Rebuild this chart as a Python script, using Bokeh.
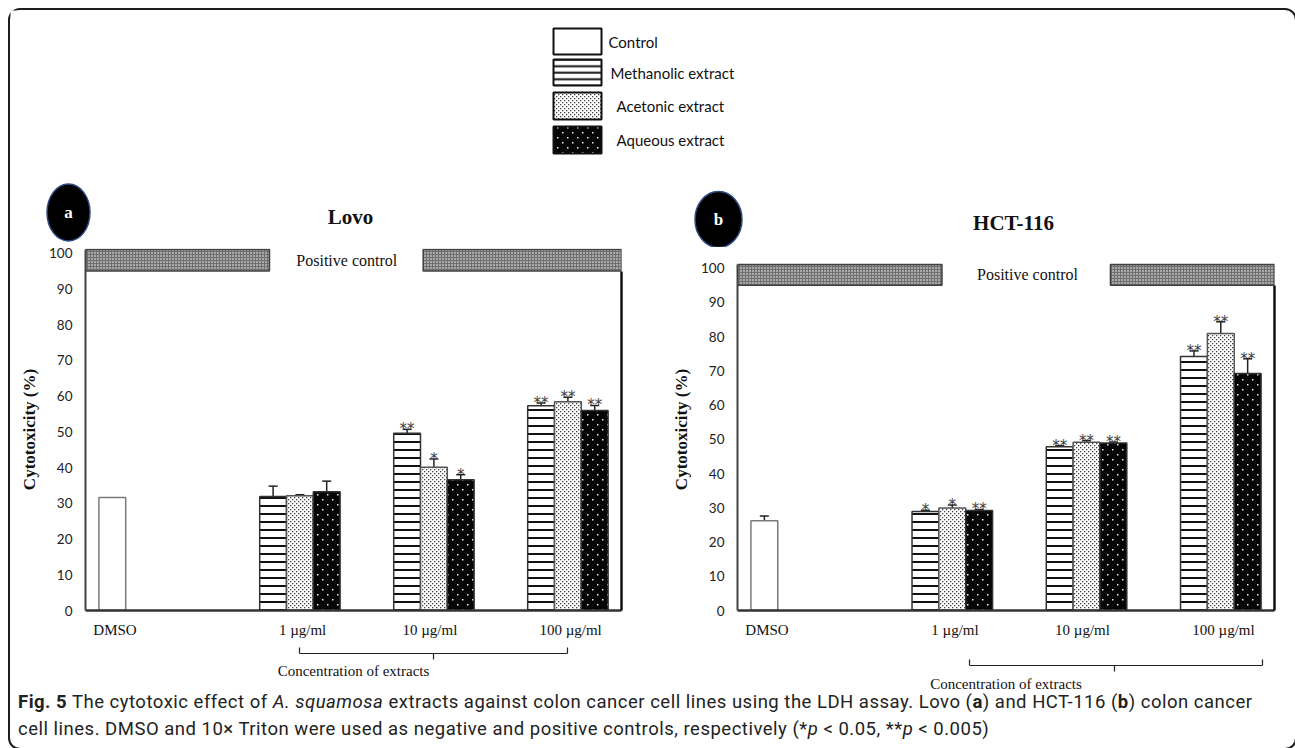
import base64
from bokeh.plotting import figure
from bokeh.models import (Range1d, LinearAxis, FixedTicker, ColumnDataSource,
                          Whisker, TeeHead, Div, ImageURLTexture)
from bokeh.layouts import column, row
from bokeh.core.properties import value
from bokeh.embed import file_html
from bokeh.resources import INLINE

# ---------------- data ----------------
categories = ["DMSO", "1 µg/ml", "10 µg/ml", "100 µg/ml"]
series_names = ["Control", "Methanolic extract", "Acetonic extract", "Aqueous extract"]

lovo_control = [31.6, 0, 0, 0]
lovo_control_err = [0, 0, 0, 0]
lovo_methanolic = [0, 31.9, 49.6, 57.3]
lovo_methanolic_err = [0, 2.9, 1.1, 0.8]
lovo_acetonic = [0, 32.1, 40.1, 58.4]
lovo_acetonic_err = [0, 0.3, 2.3, 1.3]
lovo_aqueous = [0, 33.2, 36.6, 56.0]
lovo_aqueous_err = [0, 3.0, 1.4, 1.4]
lovo_control_sig = ["", "", "", ""]
lovo_methanolic_sig = ["", "", "**", "**"]
lovo_acetonic_sig = ["", "", "*", "**"]
lovo_aqueous_sig = ["", "", "*", "**"]

hct_control = [26.2, 0, 0, 0]
hct_control_err = [1.4, 0, 0, 0]
hct_methanolic = [0, 28.9, 47.8, 74.2]
hct_methanolic_err = [0, 0.4, 0.3, 1.6]
hct_acetonic = [0, 29.9, 49.1, 80.9]
hct_acetonic_err = [0, 0.9, 0.5, 3.4]
hct_aqueous = [0, 29.2, 48.9, 69.2]
hct_aqueous_err = [0, 0.3, 0.3, 4.3]
hct_control_sig = ["", "", "", ""]
hct_methanolic_sig = ["", "*", "**", "**"]
hct_acetonic_sig = ["", "*", "**", "**"]
hct_aqueous_sig = ["", "**", "**", "**"]

y_ticks = [0, 10, 20, 30, 40, 50, 60, 70, 80, 90, 100]

# ---------------- styles ----------------
SERIF = "Liberation Serif"
SANS = "Lato"
OFFSETS = [-0.3, -0.1, 0.1, 0.3]
BAR_W = 0.2
LABEL_POS = [-0.28, 1.12, 2.07, 3.12]


def svg_uri(svg):
    return "data:image/svg+xml;base64," + base64.b64encode(svg.encode()).decode()


ACET_URI = svg_uri(
    "<svg xmlns='http://www.w3.org/2000/svg' width='4' height='4'>"
    "<rect x='0' y='0' width='1.3' height='1.3' fill='#404040'/>"
    "<rect x='2' y='2' width='1.3' height='1.3' fill='#404040'/></svg>")
AQ_URI = svg_uri(
    "<svg xmlns='http://www.w3.org/2000/svg' width='10' height='10'>"
    "<rect width='10' height='10' fill='#050505'/>"
    "<rect x='2' y='2' width='1.5' height='1.5' fill='#eeeeee'/>"
    "<rect x='7' y='7' width='1.5' height='1.5' fill='#eeeeee'/></svg>")


def bar_styles(lw, lc):
    return [
        dict(fill_color="white", line_color="#7a7a7a" if lc is None else lc, line_width=lw),
        dict(fill_color="white", line_color=lc or "#333333", line_width=lw,
             hatch_pattern="-", hatch_scale=8 if lc is None else 6.5, hatch_weight=2,
             hatch_color="#111111"),
        dict(fill_color="white", line_color=lc or "#555555", line_width=lw,
             hatch_pattern=value("acet"), hatch_extra={"acet": ImageURLTexture(url=ACET_URI)}),
        dict(fill_color="#050505", line_color=lc or "#333333", line_width=lw,
             hatch_pattern=value("aq"), hatch_extra={"aq": ImageURLTexture(url=AQ_URI)}),
    ]


def make_panel(series, errs, sigs, width, b_left, b_right, y_end, gap, pc_x,
               bracket, pad_font, pad_standoff, conc_standoff):
    p = figure(width=width, height=460, x_range=Range1d(-0.5, 3.5),
               y_range=Range1d(0, y_end), x_axis_type=None, y_axis_type=None,
               toolbar_location=None, output_backend="svg",
               min_border_left=b_left, min_border_right=b_right,
               min_border_top=11, min_border_bottom=87,
               outline_line_color=None,
               background_fill_color=None, border_fill_color=None)

    # positive control band
    p.quad(left=[-0.5, gap[1]], right=[gap[0], 3.5], bottom=95, top=101,
           fill_color="#a9a9a9", hatch_pattern="+", hatch_scale=3,
           hatch_color="#707070", hatch_weight=1,
           line_color="#404040", line_width=1.5)
    p.text(x=[pc_x], y=[98], text=["Positive control"], text_align="center",
           text_baseline="middle", text_font=value(SERIF),
           text_font_size="16px", text_color="#111111")

    styles = bar_styles(1.5, None)
    for k in range(4):
        xs, tops = [], []
        wx, wl, wu = [], [], []
        sx, sy, st = [], [], []
        for i in range(4):
            v = series[k][i]
            if v > 0:
                xs.append(i + OFFSETS[k])
                tops.append(v)
                if errs[k][i] > 0:
                    wx.append(i + OFFSETS[k])
                    wl.append(v)
                    wu.append(v + errs[k][i])
                if sigs[k][i]:
                    sx.append(i + OFFSETS[k])
                    sy.append(v + errs[k][i])
                    st.append(sigs[k][i])
        src = ColumnDataSource(dict(x=xs, top=tops))
        p.vbar(x="x", top="top", bottom=0, width=BAR_W, source=src, **styles[k])
        if wx:
            wsrc = ColumnDataSource(dict(x=wx, lower=wl, upper=wu))
            p.add_layout(Whisker(source=wsrc, base="x", lower="lower", upper="upper",
                                 line_color="#222222", line_width=1.5,
                                 lower_head=None,
                                 upper_head=TeeHead(size=9, line_color="#222222",
                                                    line_width=1.5)))
        if sx:
            ssrc = ColumnDataSource(dict(x=sx, y=sy, t=st))
            p.text(x="x", y="y", text="t", source=ssrc, text_align="center",
                   text_baseline="alphabetic", y_offset=0,
                   text_font=value("DejaVu Sans"), text_font_size="15px",
                   text_color="#3c3c3c")

    # y axis
    yax = LinearAxis(ticker=FixedTicker(ticks=y_ticks), bounds=(0, 101),
                     axis_label="Cytotoxicity (%)",
                     axis_label_text_font=SERIF, axis_label_text_font_style="bold",
                     axis_label_text_font_size="17px", axis_label_text_color="#111111",
                     axis_label_standoff=7,
                     major_label_text_font=SANS, major_label_text_font_size="13.5px",
                     major_label_text_color="#222222", major_label_standoff=13,
                     major_tick_in=0, major_tick_out=0,
                     minor_tick_line_color=None,
                     axis_line_color="#444444", axis_line_width=2)
    p.add_layout(yax, "left")

    # right frame line
    rax = LinearAxis(ticker=FixedTicker(ticks=[]), bounds=(0, 95),
                     major_label_text_font_size="1px", major_label_text_color=None,
                     major_label_standoff=0,
                     major_tick_in=0, major_tick_out=0, minor_tick_line_color=None,
                     axis_line_color="#111111", axis_line_width=2.5)
    p.add_layout(rax, "right")

    # x axis with category labels
    xax = LinearAxis(ticker=FixedTicker(ticks=LABEL_POS),
                     major_label_overrides={pos: lab for pos, lab in zip(LABEL_POS, categories)},
                     major_label_text_font=SERIF, major_label_text_font_size="15px",
                     major_label_text_color="#111111", major_label_standoff=11,
                     major_tick_in=0, major_tick_out=0, minor_tick_line_color=None,
                     axis_line_color="#333333", axis_line_width=2.5,
                     axis_label=" ", axis_label_text_font_size=pad_font,
                     axis_label_text_color=None,
                     axis_label_standoff=pad_standoff)
    p.add_layout(xax, "below")

    # bracket axis "Concentration of extracts"
    lo, mid, hi = bracket
    bax = LinearAxis(ticker=FixedTicker(ticks=[lo, hi], minor_ticks=[mid]),
                     bounds=(lo, hi),
                     axis_line_color="#222222", axis_line_width=1.2,
                     major_tick_in=6, major_tick_out=0, major_tick_line_color="#222222",
                     major_tick_line_width=1.2,
                     minor_tick_in=0, minor_tick_out=6, minor_tick_line_color="#222222",
                     minor_tick_line_width=1.2,
                     major_label_text_font_size="1px", major_label_text_color=None,
                     major_label_standoff=0,
                     axis_label="Concentration of extracts",
                     axis_label_text_font=SERIF, axis_label_text_font_size="15px",
                     axis_label_text_font_style="normal", axis_label_text_color="#111111",
                     axis_label_standoff=conc_standoff)
    p.add_layout(bax, "below")
    return p


pa = make_panel([lovo_control, lovo_methanolic, lovo_acetonic, lovo_aqueous],
                [lovo_control_err, lovo_methanolic_err, lovo_acetonic_err, lovo_aqueous_err],
                [lovo_control_sig, lovo_methanolic_sig, lovo_acetonic_sig, lovo_aqueous_sig],
                width=640, b_left=75, b_right=29, y_end=101.3, gap=(0.873, 2.02), pc_x=1.45,
                bracket=(1.097, 2.097, 3.097), pad_font="9px", pad_standoff=0,
                conc_standoff=3)
pb = make_panel([hct_control, hct_methanolic, hct_acetonic, hct_aqueous],
                [hct_control_err, hct_methanolic_err, hct_acetonic_err, hct_aqueous_err],
                [hct_control_sig, hct_methanolic_sig, hct_acetonic_sig, hct_aqueous_sig],
                width=635, b_left=87, b_right=11, y_end=105.7, gap=(1.023, 2.278), pc_x=1.66,
                bracket=(1.228, 2.31, 3.41), pad_font="20px", pad_standoff=0,
                conc_standoff=4)

# ---------------- top: legend, panel badges and titles ----------------
top = figure(width=1275, height=237, x_range=Range1d(10, 1285), y_range=Range1d(247, 10),
             x_axis_type=None, y_axis_type=None, toolbar_location=None,
             output_backend="svg", min_border=0, outline_line_color=None)

leg_top = [28, 59, 92, 126]
leg_bot = [54, 85, 119, 153]
leg_text_x = [608, 610, 616, 616]
lstyles = bar_styles(2, "#111111")
for k in range(4):
    top.quad(left=[553], right=[601], top=[leg_top[k]], bottom=[leg_bot[k]], **lstyles[k])
top.text(x=leg_text_x, y=[(a + b) / 2 for a, b in zip(leg_top, leg_bot)], text=series_names,
         text_align="left", text_baseline="middle", text_font=value(SANS),
         text_font_size="15px", text_color="#111111")

top.ellipse(x=[68, 718], y=[212, 219], width=[43, 47], height=[57, 56],
            fill_color="black", line_color="#2e4a86", line_width=1.5)
top.text(x=[68, 718], y=[212, 219], text=["a", "b"], text_align="center",
         text_baseline="middle", text_font=value(SERIF), text_font_style="bold",
         text_font_size="17px", text_color="white")
top.text(x=[350, 1013], y=[216, 222], text=["Lovo", "HCT-116"], text_align="center",
         text_baseline="middle", text_font=value(SERIF), text_font_style="bold",
         text_font_size="21px", text_color="#111111")

# ---------------- caption ----------------
cap_html = (
    '<div style="position:relative; top:-13px; height:41px; overflow:visible; '
    "padding-left:3px; font-family:'Roboto',sans-serif; "
    'font-size:18.5px; letter-spacing:0.5px; line-height:27px; white-space:nowrap; color:#222;">'
    '<b>Fig. 5</b> The cytotoxic effect of <i>A. squamosa</i> extracts against colon cancer '
    'cell lines using the LDH assay. Lovo (<b>a</b>) and HCT-116 (<b>b</b>) colon cancer<br>'
    'cell lines. DMSO and 10× Triton were used as negative and positive controls, '
    'respectively (*<i>p</i> &lt; 0.05, **<i>p</i> &lt; 0.005)</div>'
)
cap = Div(text=cap_html, width=1275, height=41)

root = column(top, row(pa, pb, styles={"margin-top": "-10px"}), cap,
              styles={"border": "2px solid #1e1e1e", "border-radius": "12px",
                      "margin-left": "8px", "margin-top": "8px"})

open("out.html", "w").write(file_html(root, INLINE))
